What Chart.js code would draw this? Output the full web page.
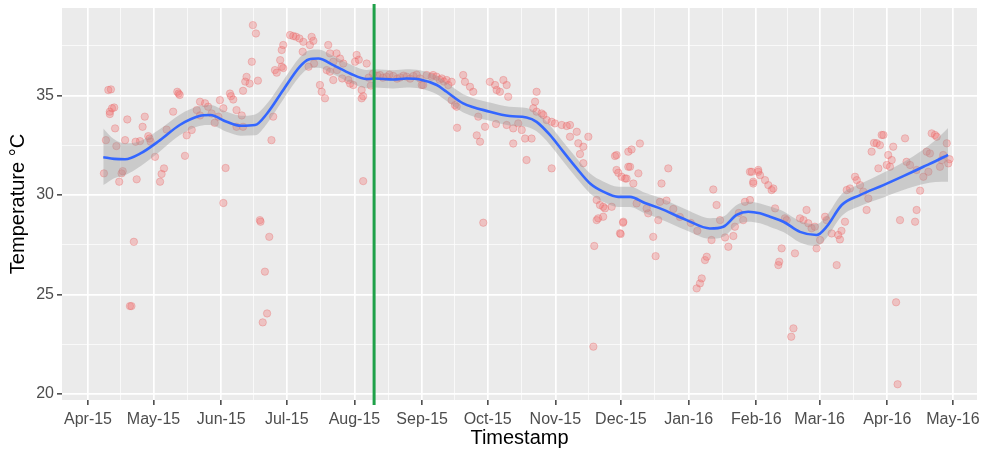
<!DOCTYPE html>
<html>
<head>
<meta charset="utf-8">
<title>Temperature over time</title>
<script src="https://cdn.jsdelivr.net/npm/chart.js@4.4.1/dist/chart.umd.min.js"></script>
<style>
  html, body { margin: 0; padding: 0; background: #ffffff; }
  #wrap { width: 983px; height: 453px; }
</style>
</head>
<body>
<div id="wrap"><canvas id="chart" width="983" height="453"></canvas></div>
<script>
// Days are counted from 1 April 2015 (day 0).

// Month ticks on the time axis
const monthTicks  = [0, 30, 61, 91, 122, 153, 183, 214, 244, 275, 306, 335, 366, 396];
const monthLabels = ['Apr-15', 'May-15', 'Jun-15', 'Jul-15', 'Aug-15', 'Sep-15', 'Oct-15',
                     'Nov-15', 'Dec-15', 'Jan-16', 'Feb-16', 'Mar-16', 'Apr-16', 'May-16'];

// Temperature ticks
const tempTicks = [20, 25, 30, 35];

// Cut-off marker (10 Aug 2015)
const cutoffDay = 131;

// Daily readings: day and temperature (°C)
const obsDay = [
  7.3, 8.2, 9.3, 10, 10.5, 11, 10, 12, 12.4, 13, 14.3, 15.4, 15.9, 17, 18, 19.2, 19.9, 21, 21.8, 22.3,
  23.8, 25, 26, 27.6, 28.2, 28.7, 30.7, 33, 33.7, 34.8, 36, 39, 40.9, 41.5, 42, 44.4, 45.2, 47.5,
  49.8, 51.3, 51.3, 53.6, 55, 56.6, 58, 59.7, 60.4, 62, 62, 63, 65, 65.5, 66.5, 68, 68, 70.4, 71, 71,
  72.6, 72, 74, 75, 75.5, 76.9, 77.8, 78.7, 79, 80, 81, 82, 83, 84, 84.8, 85.6, 86.4, 88, 88.7, 88.7,
  89.4, 89.4,
  92.5, 94, 95.2, 96.8, 98.6, 98.3, 101.6, 102.4, 103.2, 101, 103.5, 106.2, 107, 108.5, 109.3, 110,
  110.8, 110.8, 112.3, 112.3, 113.8, 115.4, 116.9, 114, 116.4, 119.2, 120, 121.5, 122.3, 123, 124,
  125.3, 126, 125.3, 126, 127.6, 128.5, 129.5, 130.5,
  132.5, 133.7, 135, 136.7, 138, 139.8, 141.5, 142.9, 144.5, 145.9, 147.5, 149, 150.5, 152, 152.8,
  153.5, 155.1, 157.4, 158, 159.6, 161, 162, 163, 164.2, 165, 166.5, 166.5, 168, 168.8, 169,
  171.8, 172.6, 174.9, 176.4, 178, 178.7, 179.5, 181, 181.8, 184, 186.4, 186.8, 187.1, 188.6, 190.2,
  191.7, 191.7, 192.4, 194.7, 194.7, 197, 198.6, 200.1, 200.8, 203.1, 203.9, 204.7, 205.4, 205.4,
  207.7, 208.5, 210, 212.3, 212.3,
  213.8, 216.9, 219.2, 220.7, 220.7, 223.8, 224.5, 225.3, 226.8, 226.8, 229.1, 231.4, 231.8, 232.9,
  232.9, 233.6, 234.4, 235.9, 235.9, 236.7, 239.8, 241.3, 242, 242, 242.8, 243.6, 243.9, 244.3, 245,
  245.1,
  245.9, 246.6, 247.4, 247.4, 248.2, 248.9, 249.7, 251.2, 252, 252.7, 255.8, 256.5, 258.8, 259.9,
  261.1, 261.9, 262.6, 264.9, 265.7, 268, 271, 276, 279,
  278.7, 280.2, 281, 282.5, 283.3, 285.5, 286.3, 287.8, 289.4, 291.7, 293.2, 295.5, 296.2, 298, 300,
  300.8, 303.1, 303.1, 303.9, 304.6, 304.6, 306.9, 306.9,
  307.7, 310, 311.5, 313, 313.8, 314.6, 316.1, 316.5, 317.6, 319.1, 319.9, 322, 323, 323.7, 326,
  327.6, 329, 329.8, 331.3, 332.8, 333.6,
  335.2, 337.5, 338.2, 340.5, 342.8, 343.5, 344.3, 345, 346.6, 347.4, 348.9, 351.2, 352, 353.5, 355,
  356.5, 357.3, 358.8, 359.9, 361.1, 361.9, 362.6, 363.4, 364.2, 365.7,
  366.4, 367.2, 368, 368.7, 370, 370.7, 371.8, 374.1, 374.8, 376.4, 378.7, 379.4, 379.4, 381, 382.5,
  384, 384.8, 385.5, 386.3, 387.8, 388.6, 390.1, 390.9, 391.6, 393.2, 393.9, 394.5
];
const obsTemp = [
  31.09, 32.76, 35.28, 34.19, 35.31, 34.36, 34.07, 34.4, 33.35, 32.46, 30.67, 31.09, 31.2, 32.76, 33.8, 24.42, 24.42, 27.65, 32.68, 30.79,
  32.71, 33.43, 33.94, 32.96, 32.84, 32.68, 31.92, 30.67, 31.06, 31.34, 33.29, 34.19, 35.19, 35.1, 35.03, 31.97, 33.0, 33.27,
  34.27, 34.69, 34.0, 34.61, 34.44, 34.1, 33.63, 33.94, 34.77, 34.36, 29.6, 31.36, 35.1, 34.97, 34.8, 34.27, 33.43, 34.0, 33.43, 35.24,
  35.94, 35.7, 35.6, 36.7, 38.54, 38.12, 35.75, 28.74, 28.66, 23.6, 26.15, 24.05, 27.9, 32.76, 33.94, 36.28, 36.15, 36.78, 36.45, 37.29,
  37.54, 36.38,
  38.04, 37.99, 37.96, 37.87, 37.7, 37.2, 37.54, 37.95, 37.75, 36.45, 36.61, 35.53, 35.19, 34.86, 36.28, 37.54,
  37.12, 36.2, 35.78, 36.7, 37.12, 36.86, 36.61, 36.28, 35.86, 35.78, 35.6, 35.53, 36.7, 37.04, 36.8,
  35.28, 34.97, 34.86, 30.7, 36.61, 35.9, 35.5, 36.1,
  36.0, 36.03, 35.9, 35.95, 36.05, 35.98, 35.85, 35.91, 36.0, 35.95, 35.85, 35.98, 36.05, 35.86, 35.53,
  35.53, 36.03, 35.95, 36.03, 35.95, 35.8, 35.86, 35.7, 35.78, 35.53, 35.69, 34.77, 34.52, 34.44, 33.38,
  36.03, 35.69, 35.44, 35.19, 33.0, 33.94, 32.68, 28.61, 33.43, 35.69, 35.53, 33.57, 35.28, 35.19, 35.78,
  35.53, 33.52, 34.94, 33.35, 32.59, 33.6, 33.27, 32.84, 31.76, 32.84, 34.36, 34.69, 35.19, 34.19,
  34.1, 34.02, 33.77, 33.68, 31.34,
  33.6, 33.52, 33.47, 33.52, 32.93, 33.18, 32.6, 32.06, 32.43, 31.6, 32.93, 22.38, 27.44, 29.75,
  28.74, 28.83, 29.5, 29.41, 28.91, 29.33, 29.41, 31.96, 31.26, 32.01, 31.12, 28.08, 28.04, 30.92, 28.61,
  28.66,
  30.83, 30.83, 31.42, 32.18, 31.42, 32.29, 30.58, 29.58, 31.09, 32.59, 29.33, 29.08, 27.9, 26.93,
  28.74, 29.66, 30.58, 29.72, 31.34, 29.3, 28.9, 28.6, 28.2,
  25.31, 25.56, 25.81, 26.73, 26.9, 27.74, 30.28, 29.5, 28.74, 27.87, 27.4, 27.94, 28.41, 29.1, 28.74,
  29.66, 29.75, 31.17, 31.17, 30.58, 30.67, 31.17, 31.26,
  31.0, 30.75, 30.5, 30.25, 30.33, 29.33, 26.48, 26.65, 27.32, 28.83, 28.74, 22.88, 23.3, 27.07, 28.83,
  28.74, 29.25, 28.58, 28.33, 28.41, 27.32,
  27.74, 28.91, 28.74, 28.07, 26.48, 27.99, 27.77, 28.2, 28.66, 30.25, 30.33, 30.92, 30.75, 30.5, 30.17,
  29.25, 29.83, 32.18, 32.62, 32.6, 31.34, 32.51, 33.02, 33.02, 31.51,
  32.01, 31.42, 31.76, 32.43, 24.61, 20.49, 28.74, 32.85, 31.67, 31.51, 28.66, 31.26, 29.25, 30.22, 30.92,
  32.18, 31.17, 32.09, 33.1, 33.02, 32.93, 31.42, 31.76, 32.01, 32.6, 31.59, 31.8
];

// Smoothed trend with its confidence band
const smoothDay = [
  7, 12, 17, 24, 33, 42, 51, 56, 63.5, 70, 76.5, 82, 89.4, 97, 101, 105.5, 112.3, 120, 127.6, 131.4,
  139.8, 145.9, 152, 159.7, 164.2, 171.8, 184, 193, 200.8, 205.4, 211.5, 217.6, 223.8, 229.9, 235.9,
  242.8, 248.2, 255, 261.9, 274.1, 284.8, 290.9, 297, 302.3, 307.7, 312.3, 318.4, 326, 333.6, 338.2,
  345.1, 353.5, 364.2, 373.3, 382.5, 388, 393.8
];
const smoothTemp = [
  31.9, 31.82, 31.8, 32.09, 32.76, 33.52, 33.97, 34.02, 33.68, 33.48, 33.52, 34.1, 35.28, 36.45, 36.81, 36.86, 36.53, 36.11, 35.83, 35.86,
  35.81, 35.86, 35.81, 35.53, 35.19, 34.61, 34.19, 33.97, 33.9, 33.68, 33.02, 32.18, 31.34, 30.58, 30.17,
  29.91, 29.91, 29.6, 29.33, 28.74, 28.32, 28.41, 29.0, 29.16, 29.08, 28.91, 28.66, 28.15, 27.99, 28.41,
  29.5, 30.0, 30.5, 30.95, 31.42, 31.7, 32.02
];
const bandLow = [
  30.5, 30.85, 31.0, 31.45, 32.2, 33.0, 33.47, 33.52, 33.18, 32.98, 33.0, 33.6, 34.8, 35.98, 36.35, 36.4, 36.07, 35.65, 35.37, 35.4,
  35.35, 35.4, 35.35, 35.07, 34.73, 34.15, 33.73, 33.5, 33.43, 33.2, 32.53, 31.69, 30.84, 30.08, 29.66,
  29.4, 29.4, 29.08, 28.8, 28.22, 27.8, 27.9, 28.5, 28.66, 28.58, 28.4, 28.14, 27.62, 27.44, 27.86,
  28.95, 29.45, 29.88, 30.25, 30.55, 30.65, 30.67
];
const bandHigh = [
  33.35, 32.8, 32.6, 32.72, 33.32, 34.04, 34.47, 34.52, 34.18, 33.98, 34.05, 34.6, 35.76, 36.92, 37.27, 37.32, 36.99, 36.57, 36.29, 36.32,
  36.27, 36.32, 36.27, 35.99, 35.65, 35.07, 34.65, 34.44, 34.37, 34.16, 33.51, 32.67, 31.84, 31.08, 30.68,
  30.42, 30.42, 30.12, 29.86, 29.26, 28.84, 28.92, 29.5, 29.66, 29.58, 29.42, 29.18, 28.68, 28.54, 28.96,
  30.05, 30.55, 31.12, 31.65, 32.29, 32.75, 33.37
];

const FONT = "'Liberation Sans', Arial, sans-serif";
const toPoints = (xs, ys) => xs.map((x, i) => ({ x: x, y: ys[i] }));

// Minor grid positions sit halfway between the major ones
const monthMinor = monthTicks.slice(1).map((v, i) => (v + monthTicks[i]) / 2);
const tempMinor = [22.5, 27.5, 32.5, 37.5];
const isMonth = v => monthTicks.includes(v);
const isTemp = v => tempTicks.includes(v);

const panelBackground = {
  id: 'panelBackground',
  beforeDraw(chart) {
    const { ctx, chartArea: a } = chart;
    ctx.save();
    ctx.fillStyle = '#EBEBEB';
    ctx.fillRect(a.left, a.top, a.right - a.left, a.bottom - a.top);
    ctx.restore();
  }
};

const cutoffLine = {
  id: 'cutoffLine',
  afterDatasetsDraw(chart) {
    const { ctx, chartArea: a, scales } = chart;
    const x = scales.x.getPixelForValue(cutoffDay);
    ctx.save();
    ctx.strokeStyle = '#1FA149';
    ctx.lineWidth = 3;
    ctx.beginPath();
    ctx.moveTo(x, a.top - 4);
    ctx.lineTo(x, a.bottom + 5);
    ctx.stroke();
    ctx.restore();
  }
};

new Chart(document.getElementById('chart'), {
  type: 'scatter',
  data: {
    datasets: [
      {
        label: 'trend',
        type: 'line',
        data: toPoints(smoothDay, smoothTemp),
        borderColor: '#3366FF',
        borderWidth: 2.6,
        pointRadius: 0,
        cubicInterpolationMode: 'monotone',
        fill: false,
        order: 0
      },
      {
        label: 'band high',
        type: 'line',
        data: toPoints(smoothDay, bandHigh),
        borderColor: 'transparent',
        pointRadius: 0,
        cubicInterpolationMode: 'monotone',
        backgroundColor: 'rgba(153,153,153,0.4)',
        fill: '+1',
        order: 1
      },
      {
        label: 'band low',
        type: 'line',
        data: toPoints(smoothDay, bandLow),
        borderColor: 'transparent',
        pointRadius: 0,
        cubicInterpolationMode: 'monotone',
        fill: false,
        order: 2
      },
      {
        label: 'readings',
        data: toPoints(obsDay, obsTemp),
        pointRadius: 3.7,
        pointBackgroundColor: 'rgba(244,110,110,0.32)',
        pointBorderColor: 'rgba(230,100,100,0.32)',
        pointBorderWidth: 1,
        order: 3
      }
    ]
  },
  options: {
    responsive: false,
    animation: false,
    devicePixelRatio: 1,
    layout: { padding: { top: 8, right: 6, left: 0, bottom: 0 } },
    plugins: { legend: { display: false }, tooltip: { enabled: false } },
    scales: {
      x: {
        type: 'linear',
        min: -11.9,
        max: 407.05,
        afterBuildTicks: s => {
          s.ticks = monthTicks.concat(monthMinor).sort((a, b) => a - b).map(v => ({ value: v }));
        },
        afterFit: s => { s.height = 53; s.paddingLeft = 0; s.paddingRight = 0; },
        border: { display: false },
        grid: {
          color: c => isMonth(c.tick.value) ? '#FFFFFF' : 'rgba(255,255,255,0.75)',
          lineWidth: c => isMonth(c.tick.value) ? 1.7 : 0.9,
          tickColor: c => isMonth(c.tick.value) ? '#333333' : 'transparent',
          tickLength: 5,
          tickWidth: 1.4
        },
        ticks: {
          autoSkip: false,
          maxRotation: 0,
          padding: 5,
          color: '#4D4D4D',
          font: { family: FONT, size: 16 },
          callback: v => {
            const i = monthTicks.indexOf(v);
            return i >= 0 ? monthLabels[i] : '';
          }
        },
        title: {
          display: true,
          text: 'Timestamp',
          color: '#000000',
          font: { family: FONT, size: 20 },
          padding: { top: 0, bottom: 3 }
        }
      },
      y: {
        type: 'linear',
        min: 19.7,
        max: 39.4,
        afterBuildTicks: s => {
          s.ticks = tempTicks.concat(tempMinor).sort((a, b) => a - b).map(v => ({ value: v }));
        },
        afterFit: s => { s.width = 62; s.paddingTop = 0; s.paddingBottom = 0; },
        border: { display: false },
        grid: {
          color: c => isTemp(c.tick.value) ? '#FFFFFF' : 'rgba(255,255,255,0.75)',
          lineWidth: c => isTemp(c.tick.value) ? 1.7 : 0.9,
          tickColor: c => isTemp(c.tick.value) ? '#333333' : 'transparent',
          tickLength: 5,
          tickWidth: 1.4
        },
        ticks: {
          autoSkip: false,
          padding: 3,
          color: '#4D4D4D',
          font: { family: FONT, size: 16 },
          callback: v => isTemp(v) ? String(v) : ''
        },
        title: {
          display: true,
          text: 'Temperature °C',
          color: '#000000',
          font: { family: FONT, size: 20 },
          padding: { top: 6, bottom: 0 }
        }
      }
    }
  },
  plugins: [panelBackground, cutoffLine]
});
</script>
</body>
</html>
